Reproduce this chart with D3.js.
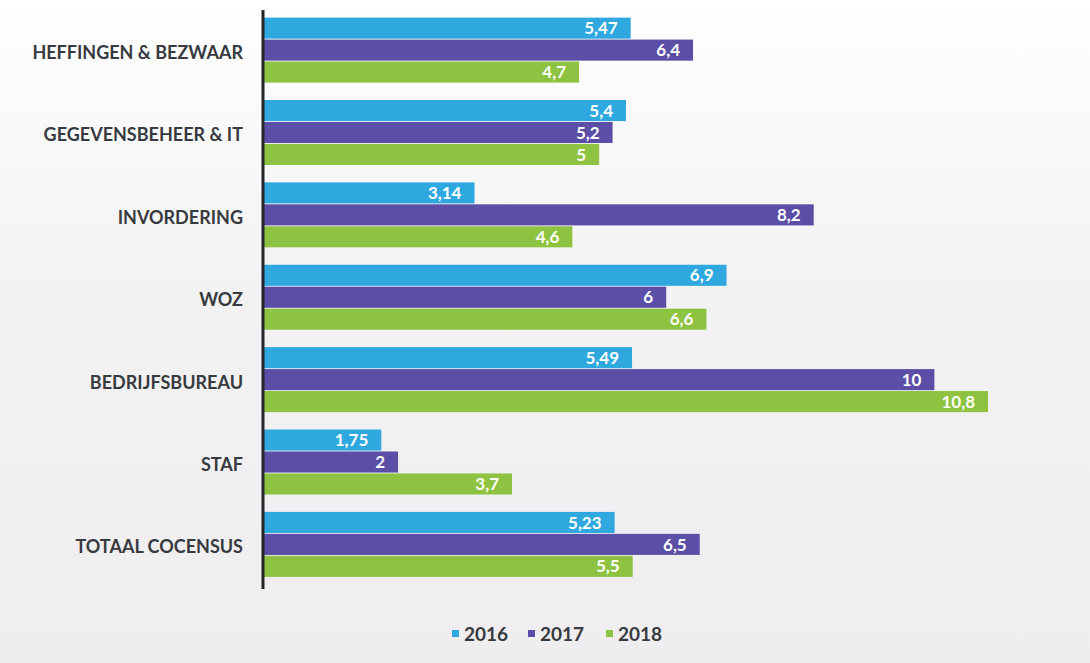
<!DOCTYPE html>
<html>
<head>
<meta charset="utf-8">
<script src="https://cdn.jsdelivr.net/npm/d3@7"></script>
<style>
  html, body { margin: 0; padding: 0; background: #f5f4f5; }
  svg { display: block; font-family: Lato, "Open Sans", sans-serif; }
</style>
</head>
<body>
<svg id="chart"></svg>
<script>
// categories (top to bottom) and series
const categories = ["HEFFINGEN & BEZWAAR", "GEGEVENSBEHEER & IT", "INVORDERING", "WOZ", "BEDRIJFSBUREAU", "STAF", "TOTAAL COCENSUS"];
const years = ["2016", "2017", "2018"];
const values2016 = [5.47, 5.4, 3.14, 6.9, 5.49, 1.75, 5.23];
const values2017 = [6.4, 5.2, 8.2, 6, 10, 2, 6.5];
const values2018 = [4.7, 5, 4.6, 6.6, 10.8, 3.7, 5.5];
const colors = ["#2fa8df", "#5a4ea6", "#8dc340"];

const width = 1090;
const height = 663;

const svg = d3.select("#chart")
    .attr("width", width)
    .attr("height", height);

// faint paper background
const bg = svg.append("defs").append("linearGradient")
    .attr("id", "paper").attr("x1", 0).attr("y1", 0).attr("x2", 0).attr("y2", 1);
bg.append("stop").attr("offset", "0").attr("stop-color", "#ffffff");
bg.append("stop").attr("offset", "0.45").attr("stop-color", "#f3f2f3");
bg.append("stop").attr("offset", "1").attr("stop-color", "#efedef");
svg.append("rect").attr("width", width).attr("height", height).attr("fill", "url(#paper)");

const series = years.map((y, i) => ({ year: y, values: [values2016, values2017, values2018][i] }));

// scales
const yScale = d3.scaleBand()
    .domain(categories)
    .range([8.5, 586])
    .paddingInner(0.19)
    .paddingOuter(0.1);

const yInner = d3.scaleBand()
    .domain(years)
    .range([0, yScale.bandwidth()])
    .padding(0.04);

const xScale = d3.scaleLinear()
    .domain([0, 10.8])
    .range([264, 988]);

// bars
const groups = svg.selectAll(".group")
    .data(categories)
    .enter().append("g")
    .attr("class", "group")
    .attr("transform", d => `translate(0,${yScale(d)})`);

groups.selectAll(".bar")
    .data((c, ci) => series.map((s, si) => ({ year: s.year, value: s.values[ci], color: colors[si] })))
    .enter().append("rect")
    .attr("class", "bar")
    .attr("x", xScale(0))
    .attr("y", d => yInner(d.year))
    .attr("width", d => xScale(d.value) - xScale(0))
    .attr("height", yInner.bandwidth())
    .attr("fill", d => d.color);

// value labels inside end
groups.selectAll(".val")
    .data((c, ci) => series.map((s, si) => ({ year: s.year, value: s.values[ci] })))
    .enter().append("text")
    .attr("class", "val")
    .attr("x", d => xScale(d.value) - 13)
    .attr("y", d => yInner(d.year) + yInner.bandwidth() / 2)
    .attr("dy", "0.36em")
    .attr("text-anchor", "end")
    .attr("fill", "#ffffff")
    .attr("font-size", 17)
    .attr("font-weight", "bold")
    .text(d => String(d.value).replace(".", ","));

// y axis with category labels
const yAxis = d3.axisLeft(yScale).tickSize(0).tickPadding(20);
const axisG = svg.append("g")
    .attr("transform", `translate(${xScale(0) - 1},0)`)
    .call(yAxis);
axisG.select(".domain").remove();
axisG.selectAll("text")
    .attr("font-size", 18)
    .attr("font-weight", "bold")
    .attr("fill", "#373a3f")
    .attr("font-family", "Lato, sans-serif")
    .attr("dy", "0.5em");

svg.append("line")
    .attr("x1", xScale(0) - 1).attr("x2", xScale(0) - 1)
    .attr("y1", 10).attr("y2", 589)
    .attr("stroke", "#23262b")
    .attr("stroke-width", 3);

// legend
const legend = svg.append("g").attr("transform", "translate(452,634)");
const legendX = [0, 76, 154];
years.forEach((y, i) => {
  const g = legend.append("g").attr("transform", `translate(${legendX[i]},0)`);
  g.append("rect").attr("x", 0).attr("y", -4).attr("width", 7).attr("height", 7).attr("fill", colors[i]);
  g.append("text").attr("x", 12).attr("y", 0).attr("dy", "0.36em")
    .attr("font-size", 19).attr("font-weight", "bold").attr("fill", "#373a3f")
    .text(y);
});
</script>
</body>
</html>
